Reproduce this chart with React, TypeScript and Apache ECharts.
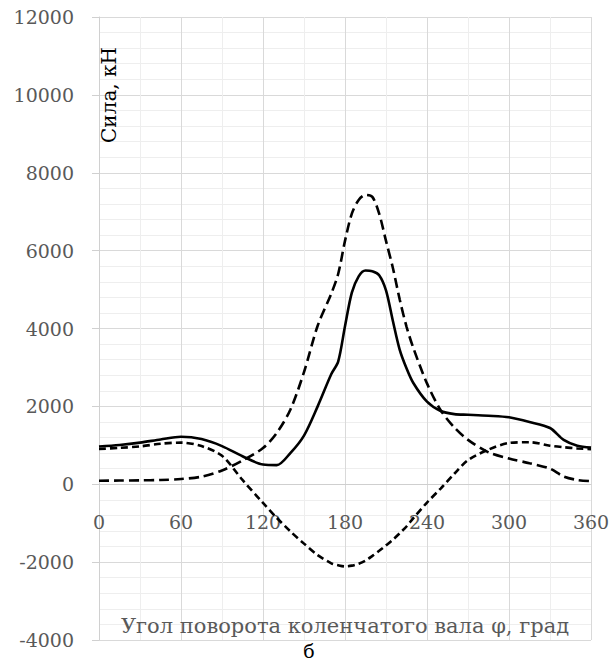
import React, { useEffect, useRef } from "react";
import * as echarts from "echarts";

const angles = [0, 15, 30, 45, 60, 75, 90, 105, 120, 130, 140, 150, 160, 170, 175, 180, 185, 190, 195, 200, 205, 210, 215, 220, 225, 230, 240, 250, 260, 270, 285, 300, 315, 330, 340, 350, 360];

const totalForce = [970, 1010, 1070, 1150, 1220, 1160, 980, 720, 505, 490, 800, 1250, 2000, 2830, 3150, 4060, 4920, 5340, 5490, 5470, 5370, 4980, 4200, 3460, 2980, 2600, 2120, 1880, 1800, 1785, 1760, 1720, 1600, 1444, 1140, 990, 940];

const gasForce = [90, 95, 100, 110, 134, 195, 355, 610, 930, 1315, 1914, 2880, 4070, 4900, 5400, 6250, 6950, 7300, 7430, 7380, 6950, 6250, 5560, 4750, 4050, 3500, 2590, 1900, 1460, 1140, 820, 660, 540, 400, 200, 110, 80];

const inertiaForce = [904, 935, 971, 1040, 1070, 980, 730, 110, -480, -860, -1210, -1525, -1820, -2030, -2080, -2110, -2090, -2040, -1960, -1840, -1710, -1570, -1425, -1260, -1085, -870, -470, -110, 270, 620, 890, 1060, 1080, 990, 950, 920, 900];

const yMin = -4000;
const yMax = 12000;
const yStep = 2000;
const xMin = 0;
const xMax = 360;
const xStep = 60;

const yTitle = "Сила, кН";
const xTitle = "Угол поворота коленчатого вала φ, град";
const caption = "б";

const FONT = "'DejaVu Serif', serif";

export default function App() {
  const ref = useRef<HTMLDivElement>(null);
  useEffect(() => {
    if (!ref.current) return;
    const chart = echarts.init(ref.current, null, { renderer: "svg" });
    const toPairs = (arr: number[]) => angles.map((a, i) => [a, arr[i]]);
    chart.setOption({
      animation: false,
      backgroundColor: "#ffffff",
      grid: {
        left: 99,
        right: 24,
        top: 17,
        bottom: 23,
        containLabel: false,
        outerBoundsMode: "none",
      },
      xAxis: {
        type: "value",
        min: xMin,
        max: xMax,
        interval: xStep,
        position: "bottom",
        axisLine: {
          show: true,
          onZero: false,
          lineStyle: { color: "#cfcfcf", width: 1 },
        },
        axisTick: { show: false },
        axisLabel: { color: "#595959", fontFamily: FONT, fontSize: 19, margin: 28 },
        splitLine: { show: true, lineStyle: { color: "#d9d9d9", width: 1 } },
        minorTick: { show: false, splitNumber: 2 },
        minorSplitLine: { show: true, lineStyle: { color: "#eeeeee", width: 1 } },
      },
      yAxis: {
        type: "value",
        min: yMin,
        max: yMax,
        interval: yStep,
        axisLine: { show: true, onZero: false, lineStyle: { color: "#d0d0d0", width: 1 } },
        axisTick: { show: true, length: 7, lineStyle: { color: "#d0d0d0" } },
        axisLabel: {
          color: "#595959",
          fontFamily: FONT,
          fontSize: 19,
          margin: 25,
          formatter: (v: number) => String(v),
        },
        splitLine: { show: true, lineStyle: { color: "#d9d9d9", width: 1 } },
        minorTick: { show: false, splitNumber: 5 },
        minorSplitLine: { show: true, lineStyle: { color: "#eeeeee", width: 1 } },
      },
      series: [
        {
          type: "line",
          data: toPairs(totalForce),
          smooth: 0.3,
          showSymbol: false,
          lineStyle: { color: "#000000", width: 2.6, type: "solid" },
          z: 5,
        },
        {
          type: "line",
          data: toPairs(gasForce),
          smooth: 0.3,
          showSymbol: false,
          lineStyle: { color: "#000000", width: 2.6, type: [10, 5] },
          z: 4,
        },
        {
          type: "line",
          data: toPairs(inertiaForce),
          smooth: 0.3,
          showSymbol: false,
          lineStyle: { color: "#000000", width: 2.6, type: [7, 4] },
          z: 3,
        },
      ],
      graphic: [
        {
          type: "text",
          x: 109,
          y: 95,
          rotation: Math.PI / 2,
          style: {
            text: yTitle,
            fill: "#000000",
            font: `20px ${FONT}`,
            textAlign: "center",
            textVerticalAlign: "middle",
          },
          z: 10,
        },
        {
          type: "text",
          x: 345,
          y: 626,
          style: {
            text: xTitle,
            fill: "#595959",
            font: `21px ${FONT}`,
            textAlign: "center",
            textVerticalAlign: "middle",
          },
          z: 10,
        },
        {
          type: "text",
          x: 309,
          y: 651,
          style: {
            text: caption,
            fill: "#000000",
            font: `19px ${FONT}`,
            textAlign: "center",
            textVerticalAlign: "middle",
          },
          z: 10,
        },
      ],
    });
    // Move the x axis (line + labels) to the zero level of the y axis,
    // using the library's own scale to find that level.
    const zeroY = chart.convertToPixel({ yAxisIndex: 0 }, 0) as number;
    const bottomY = chart.convertToPixel({ yAxisIndex: 0 }, yMin) as number;
    if (isFinite(zeroY) && isFinite(bottomY)) {
      chart.setOption({ xAxis: { offset: zeroY - bottomY } });
    }
    return () => chart.dispose();
  }, []);
  return (
    <div
      ref={ref}
      style={{ position: "absolute", left: 0, top: 0, width: 615, height: 663 }}
    />
  );
}
